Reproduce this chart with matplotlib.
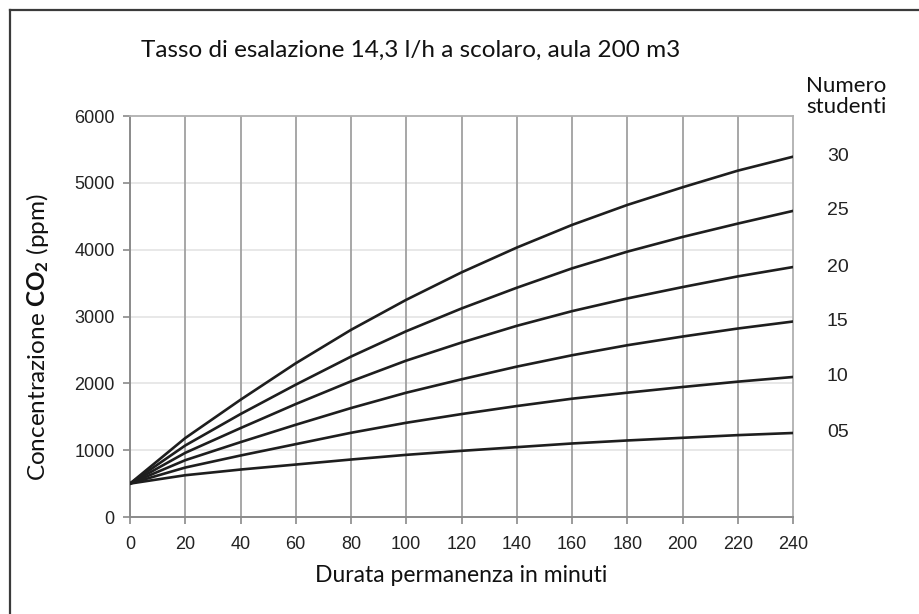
import matplotlib
matplotlib.use("Agg")
import matplotlib.pyplot as plt
import matplotlib.transforms as mtransforms
from matplotlib.lines import Line2D

# Dati (ppm ogni 20 minuti)
minuti = [0, 20, 40, 60, 80, 100, 120, 140, 160, 180, 200, 220, 240]
studenti = ["30", "25", "20", "15", "10", "05"]
co2_30 = [500, 1181, 1754, 2300, 2800, 3250, 3660, 4031, 4370, 4669, 4933, 5182, 5391]
co2_25 = [500, 1070, 1540, 1980, 2400, 2780, 3120, 3430, 3720, 3970, 4190, 4390, 4580]
co2_20 = [500, 960, 1330, 1690, 2030, 2340, 2610, 2860, 3080, 3270, 3440, 3600, 3740]
co2_15 = [500, 850, 1120, 1380, 1630, 1860, 2060, 2250, 2420, 2570, 2700, 2820, 2925]
co2_10 = [500, 740, 920, 1090, 1260, 1410, 1540, 1660, 1770, 1860, 1945, 2025, 2095]
co2_05 = [500, 625, 710, 785, 860, 930, 990, 1045, 1100, 1145, 1185, 1225, 1257]
serie = [co2_30, co2_25, co2_20, co2_15, co2_10, co2_05]

x_ticks = list(range(0, 241, 20))
y_ticks = list(range(0, 6001, 1000))

plt.rcParams['font.family'] = ['Lato', 'DejaVu Sans']
plt.rcParams['mathtext.fontset'] = 'custom'
plt.rcParams['mathtext.rm'] = 'Lato'
plt.rcParams['mathtext.bf'] = 'Lato:bold'

W, H = 919, 614
fig = plt.figure(figsize=(W / 100, H / 100), dpi=100)
ax = fig.add_axes([130 / W, 1 - 517 / H, 663 / W, 401 / H])

for valori in serie:
    ax.plot(minuti, valori, color='#1e1e1e', lw=1.9, zorder=3)

ax.set_xlim(0, 240)
ax.set_ylim(0, 6000)
ax.set_xticks(x_ticks)
ax.set_yticks(y_ticks)

# griglia: verticali scure, orizzontali chiare
for x in x_ticks[1:-1]:
    ax.axvline(x, color='#a0a0a0', lw=1.3, zorder=1)
for y in y_ticks[1:-1]:
    ax.axhline(y, color='#e6e6e6', lw=1.3, zorder=0)

for s in ['left', 'bottom']:
    ax.spines[s].set_color('#8a8a8a')
    ax.spines[s].set_linewidth(1.4)
for s in ['top', 'right']:
    ax.spines[s].set_color('#b0b0b0')
    ax.spines[s].set_linewidth(1.3)

ax.tick_params(axis='both', colors='#8a8a8a', length=5, width=1.2,
               labelcolor='#222222', labelsize=13)
ax.tick_params(axis='y', pad=6)
ax.tick_params(axis='x', pad=9)
for lab in ax.get_xticklabels() + ax.get_yticklabels():
    lab.set_fontfamily('Liberation Sans')

# etichette numero studenti a destra delle curve
trans = mtransforms.blended_transform_factory(ax.transAxes, ax.transData)
for nome, valori in zip(studenti, serie):
    ax.text(1 + 34 / 663, valori[-1], nome, transform=trans, va='center',
            ha='left', fontsize=14, family='Liberation Sans', color='#222222')

fig.text(141 / W, 1 - 57 / H, 'Tasso di esalazione 14,3 l/h a scolaro, aula 200 m3',
         fontsize=17.5, color='#111111', va='baseline')
fig.text(806 / W, 1 - 92 / H, 'Numero', fontsize=16, color='#111111', va='baseline')
fig.text(806 / W, 1 - 113 / H, 'studenti', fontsize=16, color='#111111', va='baseline')
fig.text(461 / W, 1 - 582 / H, 'Durata permanenza in minuti', fontsize=16.5,
         color='#111111', ha='center', va='baseline')
fig.text(38 / W, 1 - 337 / H, 'Concentrazione $\\mathbf{CO_2}$ (ppm)', fontsize=17.5,
         color='#111111', rotation=90, ha='center', va='center')

# cornice esterna (solo lati sinistro e superiore visibili)
fig.add_artist(Line2D([10 / W, 10 / W], [0, 1 - 10 / H], transform=fig.transFigure,
                      color='#3a3a3a', lw=1.6))
fig.add_artist(Line2D([10 / W, 1], [1 - 10 / H, 1 - 10 / H], transform=fig.transFigure,
                      color='#3a3a3a', lw=1.6))

fig.savefig('out.png', dpi=100)
